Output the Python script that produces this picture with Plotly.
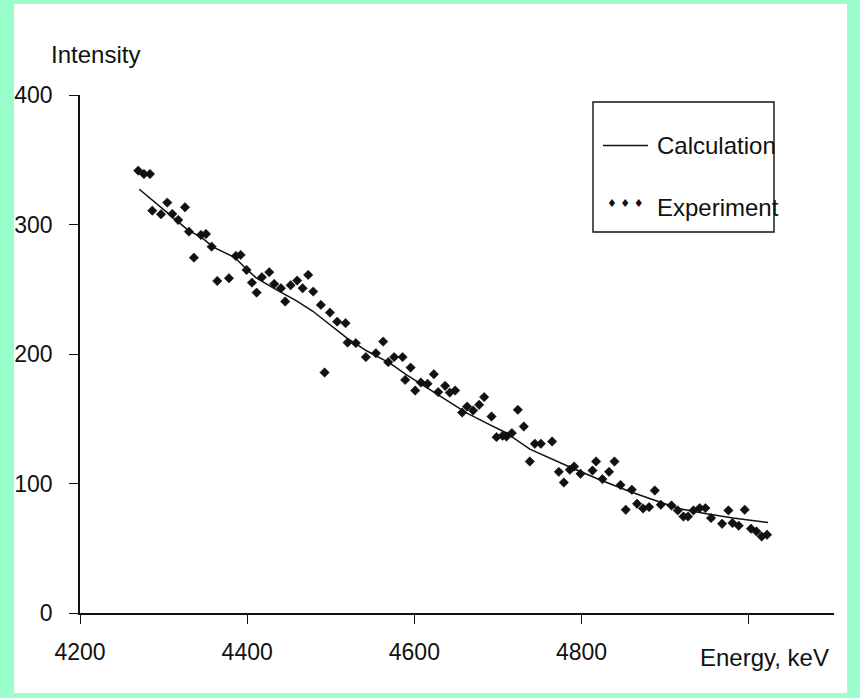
import plotly.graph_objects as go

# Measured spectrum (points) and calculated curve
energy_exp = [
    4269.7, 4276.5, 4283.7, 4286.5, 4296.9, 4304.4, 4310.4, 4317.5, 4325.6, 4330.3,
    4336.3, 4344.7, 4350.7, 4357.5, 4364.2, 4378.2, 4386.5, 4392.2, 4399.3, 4405.7,
    4411.3, 4417.6, 4426.4, 4432.3, 4440.4, 4445.5, 4452.0, 4459.8, 4466.3, 4473.0,
    4479.0, 4488.2, 4499.0, 4507.7, 4492.6, 4517.7, 4520.1, 4530.0, 4542.0, 4554.0,
    4562.7, 4568.7, 4575.8, 4585.9, 4589.0, 4595.5, 4601.0, 4607.8, 4615.8, 4623.3,
    4628.5, 4636.8, 4642.4, 4648.8, 4657.2, 4663.1, 4670.3, 4677.5, 4683.5, 4692.3,
    4698.3, 4705.5, 4710.2, 4716.6, 4723.8, 4730.9, 4738.1, 4744.1, 4751.3, 4764.8,
    4772.8, 4778.8, 4786.0, 4791.1, 4798.7, 4813.1, 4817.4, 4825.0, 4832.9, 4839.4,
    4846.6, 4852.9, 4860.1, 4866.4, 4873.6, 4880.8, 4887.6, 4894.8, 4907.6, 4915.1,
    4921.9, 4927.4, 4933.9, 4941.4, 4948.2, 4954.9, 4968.1, 4975.7, 4980.5, 4988.0,
    4995.2, 5002.7, 5009.2, 5015.5, 5021.9,
]
intensity_exp = [
    341.6, 339.0, 339.0, 310.7, 307.9, 316.9, 308.2, 303.5, 313.3, 294.5,
    274.4, 291.9, 292.7, 282.9, 256.4, 258.5, 275.7, 276.5, 264.9, 255.1,
    247.4, 259.3, 263.2, 254.1, 250.8, 240.5, 253.1, 256.7, 250.8, 261.1,
    248.2, 237.9, 232.0, 225.0, 185.7, 223.8, 208.8, 208.4, 197.6, 200.6,
    209.6, 193.7, 197.6, 197.6, 180.0, 189.5, 171.8, 178.0, 177.0, 184.4,
    170.6, 175.4, 170.2, 171.8, 154.8, 159.4, 156.4, 160.8, 166.7, 151.7,
    135.8, 136.8, 136.3, 138.9, 156.9, 144.0, 117.0, 130.7, 130.7, 132.4,
    109.0, 100.8, 110.6, 113.1, 107.5, 110.0, 117.0, 103.4, 109.0, 117.0,
    98.8, 79.7, 95.2, 84.4, 80.7, 81.8, 94.6, 83.6, 83.0, 79.2,
    74.5, 74.5, 79.2, 81.0, 81.0, 73.3, 68.9, 79.2, 69.5, 67.4,
    79.7, 65.1, 63.0, 59.1, 60.4,
]

energy_calc = [
    4270.9, 4285.7, 4303.7, 4329.5, 4345.5, 4359.4, 4385.3, 4399.3, 4411.3, 4435.2,
    4459.1, 4478.6, 4500.0, 4519.0, 4542.8, 4570.7, 4590.7, 4630.5, 4662.4, 4686.3,
    4710.2, 4738.1, 4765.9, 4785.9, 4821.8, 4857.7, 4885.6, 4917.5, 4949.4, 4981.2,
    5023.1,
]
intensity_calc = [
    327.2, 319.5, 309.5, 295.5, 290.0, 282.5, 274.5, 265.5, 258.5, 249.5,
    241.0, 233.0, 222.0, 212.5, 202.5, 192.9, 183.9, 167.5, 154.5, 146.6,
    139.0, 126.5, 118.3, 112.7, 102.9, 93.8, 87.4, 80.5, 76.6, 73.3,
    69.9,
]

x_ticks = [4200, 4400, 4600, 4800, 5000]
x_tick_labels = ["4200", "4400", "4600", "4800", ""]
y_ticks = [0, 100, 200, 300, 400]
y_tick_labels = ["0", "100", "200", "300", "400"]

x_title = "Energy, keV"
y_title = "Intensity"
legend_names = ["Calculation", "Experiment"]

# Page geometry (pixels) and helpers to place layout items in paper coordinates
W, H = 860, 698
L, R, T, B = 80, 26, 95, 85
PW, PH = W - L - R, H - T - B


def fx(px):
    return (px - L) / PW


def fy(py):
    return 1 - (py - T) / PH


FONT = "Liberation Sans, Arial, sans-serif"
FSIZE = 24
INK = "#111111"
MINT = "#99FFCC"

fig = go.Figure()

fig.add_trace(go.Scatter(
    x=energy_calc, y=intensity_calc, mode="lines",
    line=dict(color=INK, width=1.5), name=legend_names[0], showlegend=False,
))
fig.add_trace(go.Scatter(
    x=energy_exp, y=intensity_exp, mode="markers",
    marker=dict(symbol="diamond", size=7.2, color=INK, line=dict(color=INK, width=0.6)),
    name=legend_names[1], showlegend=False,
))

axis_common = dict(
    showgrid=False, zeroline=False, showline=True, linecolor=INK, linewidth=1.5,
    ticks="outside", ticklen=9, tickwidth=1.3, tickcolor=INK, automargin=False,
    tickfont=dict(family=FONT, size=23, color=INK),
)

fig.update_xaxes(
    range=[4200, 5102], tickvals=x_ticks, ticktext=x_tick_labels,
    ticklabelstandoff=9, **axis_common,
)
fig.update_yaxes(
    range=[0, 400], tickvals=y_ticks, ticktext=y_tick_labels,
    ticklabelstandoff=12, **axis_common,
)

shapes = [
    # white page inside the mint frame
    dict(type="rect", xref="paper", yref="paper", x0=fx(14), x1=fx(847), y0=fy(693), y1=fy(4),
         fillcolor="white", line=dict(width=0), layer="below"),
    # legend box
    dict(type="rect", xref="paper", yref="paper", x0=fx(593), x1=fx(774), y0=fy(232), y1=fy(102),
         fillcolor="white", line=dict(color=INK, width=1.4), layer="above"),
    # legend line sample
    dict(type="line", xref="paper", yref="paper", x0=fx(603), x1=fx(648), y0=fy(145.5), y1=fy(145.5),
         line=dict(color=INK, width=1.3)),
]

text_font = dict(family=FONT, size=FSIZE, color=INK)
annotations = [
    dict(text=y_title, xref="paper", yref="paper", x=fx(49), y=fy(55),
         xanchor="left", yanchor="middle", showarrow=False, font=text_font),
    dict(text=x_title, xref="paper", yref="paper", x=fx(831), y=fy(657),
         xanchor="right", yanchor="middle", showarrow=False, font=text_font),
    dict(text=legend_names[0], xref="paper", yref="paper", x=fx(655), y=fy(145),
         xanchor="left", yanchor="middle", showarrow=False, font=text_font),
    dict(text=legend_names[1], xref="paper", yref="paper", x=fx(655), y=fy(207),
         xanchor="left", yanchor="middle", showarrow=False, font=text_font),
    dict(text="\u2666 \u2666 \u2666", xref="paper", yref="paper", x=fx(625), y=fy(203),
         xanchor="center", yanchor="middle", showarrow=False,
         font=dict(family="DejaVu Sans", size=11, color=INK)),
]

fig.update_layout(
    width=W, height=H,
    margin=dict(l=L, r=R, t=T, b=B, pad=0),
    paper_bgcolor=MINT, plot_bgcolor="white",
    shapes=shapes, annotations=annotations,
    showlegend=False,
)

fig.write_html("out.html")
